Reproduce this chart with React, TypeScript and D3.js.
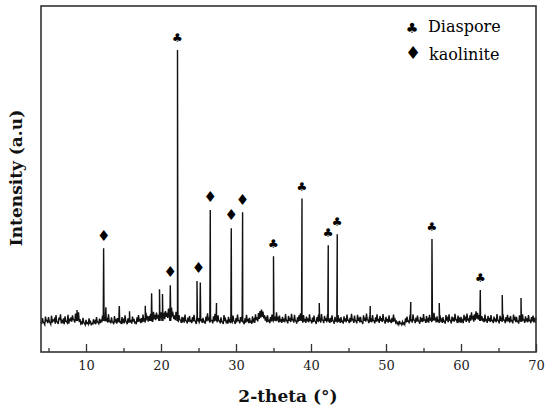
import React, { useEffect, useRef } from 'react'
import * as d3 from 'd3'

// background noise, sampled at 4.0, 4.2, ... 70.0 (even) and 4.1, 4.3, ... 69.9 (odd)
const noiseStart = 4
const noiseStep = 0.2
const noiseEven = [
  1.2, 2.5, 0.8, 3.1, 1.6, 2.9, 0.9, 3.4, 1.8, 2.2, 3.6, 1.1, 2.7, 3.9, 1.5, 2.4, 3.2, 1.3, 3.7, 2.0,
  2.8, 3.5, 1.9, 4.2, 3.0, 4.6, 2.2, 1.0, 2.6, 0.7, 1.9, 0.8, 2.4, 1.2, 0.6, 2.1, 1.4, 2.9, 1.0, 2.3,
  2.0, 3.4, 4.5, 3.8, 2.6, 3.9, 1.4, 2.8, 1.0, 3.3, 1.7, 2.5, 4.1, 1.2, 2.9, 1.8, 3.5, 1.1, 2.4, 3.0,
  1.5, 3.1, 2.2, 1.0, 2.8, 3.6, 1.9, 2.5, 3.8, 2.1, 4.4, 2.7, 3.3, 4.0, 2.6, 4.8, 3.2, 4.5, 3.7, 5.2,
  4.6, 5.8, 3.9, 5.1, 4.4, 6.0, 5.3, 6.4, 4.2, 3.5, 4.8, 2.9, 3.6, 1.8, 3.0, 2.2, 3.8, 1.4, 2.7, 3.3,
  1.6, 2.9, 3.7, 1.2, 3.4, 2.5, 4.0, 1.9, 2.6, 1.3, 3.1, 4.3, 2.4, 3.9, 1.7, 3.2, 4.1, 2.3, 3.5, 1.5,
  2.8, 1.1, 3.6, 2.2, 1.4, 3.0, 1.8, 2.7, 3.4, 1.2, 2.5, 3.8, 1.6, 2.9, 3.3, 1.0, 2.4, 3.7, 1.9, 2.6,
  1.3, 3.2, 2.0, 3.9, 2.8, 4.4, 5.1, 5.6, 4.9, 3.6, 2.4, 3.5, 1.7, 2.9, 3.8, 4.2, 3.1, 4.6, 2.5, 3.4,
  1.8, 3.0, 2.3, 4.0, 1.5, 3.3, 2.6, 4.1, 2.0, 3.7, 1.4, 2.8, 3.5, 4.3, 2.2, 3.6, 1.9, 3.1, 2.4, 3.9,
  1.6, 2.7, 3.4, 1.2, 2.9, 3.8, 2.1, 4.0, 1.7, 3.3, 2.5, 3.9, 1.8, 2.6, 3.5, 1.3, 3.0, 2.2, 3.6, 2.0,
  2.9, 1.4, 3.2, 2.4, 3.8, 1.7, 2.6, 4.1, 2.0, 3.4, 1.5, 3.7, 2.3, 3.0, 1.2, 3.5, 2.7, 4.2, 1.8, 3.1,
  2.4, 3.6, 1.6, 2.8, 3.9, 1.9, 3.3, 2.5, 4.0, 1.4, 3.0, 2.2, 3.5, 1.7, 2.6, 3.8, 2.1, 1.3, 0.9, 1.5,
  0.6, 1.2, 0.8, 2.4, 3.1, 1.5, 3.6, 2.2, 3.9, 1.8, 2.7, 3.4, 1.3, 3.0, 2.5, 4.0, 1.9, 3.3, 2.1, 3.7,
  2.6, 3.8, 4.4, 2.3, 3.2, 1.7, 3.5, 2.0, 2.9, 1.4, 3.6, 2.4, 3.9, 1.6, 3.1, 2.7, 4.1, 1.9, 3.4, 2.2,
  3.0, 1.8, 3.7, 2.5, 4.2, 2.1, 3.5, 4.6, 2.8, 3.9, 5.0, 4.4, 3.6, 4.8, 3.2, 2.4, 3.8, 1.9, 3.3, 2.6,
  3.6, 1.7, 3.1, 2.3, 4.0, 1.5, 3.4, 2.8, 3.9, 1.8, 2.9, 3.7, 2.2, 3.3, 1.6, 3.8, 2.5, 3.0, 1.4, 3.5,
  2.7, 3.9, 1.9, 3.2, 2.4, 3.6, 1.7, 2.9, 3.4, 2.1, 2.8,
]
const noiseOdd = [
  0.4, 1.1, 0.2, 1.5, 0.7, 1.3, 0.3, 0.9, 1.6, 0.5, 1.2, 0.4, 1.8, 0.6, 1.0, 0.3, 1.4, 0.8, 0.5, 1.7,
  1.2, 2.0, 0.9, 1.8, 2.4, 1.1, 0.5, 0.2, 0.9, 0.1, 0.6, 0.3, 0.8, 0.2, 0.4, 0.9, 0.3, 1.1, 0.5, 0.7,
  1.0, 1.6, 2.2, 1.5, 0.9, 1.4, 0.6, 1.2, 0.3, 1.0, 0.5, 1.3, 0.8, 0.4, 1.1, 0.6, 1.5, 0.3, 0.9, 1.2,
  0.5, 1.3, 0.8, 0.3, 1.1, 1.6, 0.7, 1.0, 1.7, 0.9, 2.0, 1.2, 1.5, 2.2, 1.4, 2.6, 1.8, 2.3, 1.9, 2.8,
  2.5, 3.2, 2.1, 3.0, 2.6, 3.4, 2.9, 3.6, 2.2, 1.8, 2.5, 1.4, 1.9, 0.8, 1.5, 0.9, 1.7, 0.6, 1.2, 1.4,
  0.7, 1.3, 1.6, 0.4, 1.5, 1.0, 1.8, 0.8, 1.2, 0.5, 1.4, 2.0, 0.9, 1.7, 0.6, 1.3, 1.9, 1.0, 1.6, 0.6,
  1.2, 0.4, 1.5, 0.9, 0.5, 1.3, 0.7, 1.1, 1.6, 0.4, 1.0, 1.7, 0.6, 1.2, 1.4, 0.3, 0.9, 1.6, 0.7, 1.1,
  0.5, 1.4, 0.8, 1.8, 1.3, 2.2, 2.7, 3.0, 2.4, 1.6, 1.0, 1.5, 0.7, 1.3, 1.7, 1.9, 1.4, 2.0, 1.0, 1.5,
  0.8, 1.3, 1.0, 1.8, 0.6, 1.5, 1.1, 1.9, 0.9, 1.6, 0.5, 1.2, 1.5, 2.0, 0.9, 1.6, 0.8, 1.4, 1.0, 1.7,
  0.6, 1.1, 1.5, 0.4, 1.3, 1.7, 0.9, 1.8, 0.7, 1.5, 1.0, 1.8, 0.8, 1.1, 1.6, 0.5, 1.3, 0.9, 1.6, 0.8,
  1.3, 0.5, 1.4, 1.0, 1.7, 0.7, 1.1, 1.9, 0.8, 1.5, 0.6, 1.6, 1.0, 1.3, 0.4, 1.5, 1.2, 1.9, 0.7, 1.4,
  1.0, 1.6, 0.6, 1.2, 1.7, 0.8, 1.5, 1.1, 1.8, 0.5, 1.3, 0.9, 1.5, 0.7, 1.1, 1.7, 0.8, 0.4, 0.2, 0.5,
  0.1, 0.4, 0.2, 1.0, 1.4, 0.6, 1.6, 0.9, 1.8, 0.7, 1.2, 1.5, 0.5, 1.3, 1.1, 1.8, 0.8, 1.5, 0.9, 1.6,
  1.1, 1.7, 2.0, 1.0, 1.4, 0.7, 1.6, 0.8, 1.3, 0.5, 1.6, 1.0, 1.8, 0.6, 1.4, 1.2, 1.9, 0.8, 1.5, 0.9,
  1.3, 0.7, 1.7, 1.1, 1.9, 0.9, 1.6, 2.1, 1.2, 1.8, 2.3, 2.0, 1.6, 2.2, 1.4, 1.0, 1.7, 0.8, 1.5, 1.1,
  1.6, 0.7, 1.4, 1.0, 1.8, 0.6, 1.5, 1.2, 1.8, 0.7, 1.3, 1.7, 0.9, 1.5, 0.6, 1.7, 1.1, 1.3, 0.5, 1.6,
  1.2, 1.8, 0.8, 1.4, 1.0, 1.6, 0.7, 1.3, 1.5, 0.9,
]

// sharp reflections: position (2-theta) and height
const peakPos = [
  8.8, 12.35, 12.65, 14.44, 15.8, 17.9, 18.75, 19.8, 20.2, 21.24, 22.2, 24.8, 25.24, 26.57, 27.4,
  29.37, 30.88, 35.0, 38.8, 41.1, 42.3, 43.5, 47.9, 53.3, 56.13, 57.1, 62.57, 65.5, 68.0,
]
const peakHeight = [
  5.5, 27.9, 6.5, 6.9, 5.0, 7.0, 11.6, 13.0, 11.3, 14.5, 100, 16.0, 15.5, 41.8, 8.0,
  35.2, 41.0, 25.0, 46.0, 8.0, 29.0, 33.0, 6.9, 8.4, 31.3, 8.0, 12.7, 10.9, 9.8,
]

const diasporePos = [22.2, 35.0, 38.8, 42.3, 43.5, 56.13, 62.57]
const diasporeHeight = [100, 25.0, 46.0, 29.0, 33.0, 31.3, 12.7]
const kaolinitePos = [12.35, 21.24, 25.0, 26.57, 29.37, 30.88]
const kaoliniteHeight = [27.9, 14.5, 16.0, 41.8, 35.2, 41.0]

const majorTicks = [10, 20, 30, 40, 50, 60, 70]
const minorTicks = [5, 15, 25, 35, 45, 55, 65]

const CLUB = '\u2663'
const DIAMOND = '\u2666'

function App() {
  const width = 550
  const height = 413
  const refSvg = useRef<SVGSVGElement>(null)

  const draw = () => {
    const svg = d3.select(refSvg.current)
    svg.selectAll('*').remove()

    const left = 41
    const right = 536
    const top = 6
    const bottom = 352

    const x = d3.scaleLinear().domain([4, 70]).range([left, right])
    const y = d3.scaleLinear().domain([-9.8, 116]).range([bottom, top])

    // merge noise and peaks into one trace
    const pts: [number, number][] = noiseEven.map((v, i) => [noiseStart + i * noiseStep, v])
    noiseOdd.forEach((v, i) => pts.push([noiseStart + noiseStep / 2 + i * noiseStep, v]))
    peakPos.forEach((p, i) => {
      pts.push([p - 0.06, 1.5])
      pts.push([p, peakHeight[i]])
      pts.push([p + 0.06, 1.5])
    })
    pts.sort((a, b) => a[0] - b[0])

    svg
      .append('path')
      .datum(pts)
      .attr('fill', 'none')
      .attr('stroke', '#111')
      .attr('stroke-width', 1.4)
      .attr('stroke-linejoin', 'miter')
      .attr(
        'd',
        d3
          .line<[number, number]>()
          .x((d) => x(d[0]))
          .y((d) => y(d[1]))
      )

    // inward ticks
    const gMajor = svg
      .append('g')
      .attr('transform', `translate(0, ${bottom})`)
      .call(d3.axisBottom(x).tickValues(majorTicks).tickSize(-8).tickPadding(9).tickFormat(d3.format('d')))
    gMajor.select('.domain').remove()
    gMajor.selectAll('line').attr('stroke', '#333').attr('stroke-width', 1.3)
    gMajor
      .selectAll('text')
      .attr('font-family', '"DejaVu Serif", serif')
      .attr('font-size', 13)
      .attr('fill', '#222')

    const gMinor = svg
      .append('g')
      .attr('transform', `translate(0, ${bottom})`)
      .call(d3.axisBottom(x).tickValues(minorTicks).tickSize(-4).tickFormat(() => ''))
    gMinor.select('.domain').remove()
    gMinor.selectAll('line').attr('stroke', '#333').attr('stroke-width', 1.3)

    // frame
    svg
      .append('rect')
      .attr('x', left)
      .attr('y', top)
      .attr('width', right - left)
      .attr('height', bottom - top)
      .attr('fill', 'none')
      .attr('stroke', '#333')
      .attr('stroke-width', 1.6)

    // phase markers
    const markers = svg.append('g').attr('font-family', '"DejaVu Sans", sans-serif').attr('text-anchor', 'middle').attr('fill', '#000')
    diasporePos.forEach((p, i) => {
      markers
        .append('text')
        .attr('x', x(p))
        .attr('y', y(diasporeHeight[i]) - 12)
        .attr('dy', '0.35em')
        .attr('font-size', 12)
        .text(CLUB)
    })
    kaolinitePos.forEach((p, i) => {
      markers
        .append('text')
        .attr('x', x(p))
        .attr('y', y(kaoliniteHeight[i]) - 13)
        .attr('dy', '0.35em')
        .attr('font-size', 15)
        .text(DIAMOND)
    })

    // legend
    const legend = svg.append('g').attr('fill', '#000')
    legend.append('text').attr('x', 412).attr('y', 28).attr('dy', '0.35em').attr('text-anchor', 'middle')
      .attr('font-family', '"DejaVu Sans", sans-serif').attr('font-size', 14).text(CLUB)
    legend.append('text').attr('x', 413).attr('y', 53).attr('dy', '0.35em').attr('text-anchor', 'middle')
      .attr('font-family', '"DejaVu Sans", sans-serif').attr('font-size', 18).text(DIAMOND)
    legend.append('text').attr('x', 428).attr('y', 32).attr('font-family', '"DejaVu Serif", serif')
      .attr('font-size', 16).text('Diaspore')
    legend.append('text').attr('x', 429).attr('y', 60).attr('font-family', '"DejaVu Serif", serif')
      .attr('font-size', 16).text('kaolinite')

    // axis titles
    svg
      .append('text')
      .attr('x', 288)
      .attr('y', 402)
      .attr('text-anchor', 'middle')
      .attr('font-family', '"DejaVu Serif", serif')
      .attr('font-weight', 'bold')
      .attr('font-size', 17)
      .attr('fill', '#111')
      .text('2-theta (°)')
    svg
      .append('text')
      .attr('transform', 'translate(22, 178) rotate(-90)')
      .attr('text-anchor', 'middle')
      .attr('font-family', '"DejaVu Serif", serif')
      .attr('font-weight', 'bold')
      .attr('font-size', 17)
      .attr('fill', '#111')
      .text('Intensity (a.u)')
  }

  useEffect(() => {
    if (refSvg.current) {
      draw()
    }
  })

  return (
    <svg
      ref={refSvg}
      width={width}
      height={height}
      style={{ position: 'absolute', left: 0, top: 0, background: '#fff' }}
    />
  )
}

export default App
